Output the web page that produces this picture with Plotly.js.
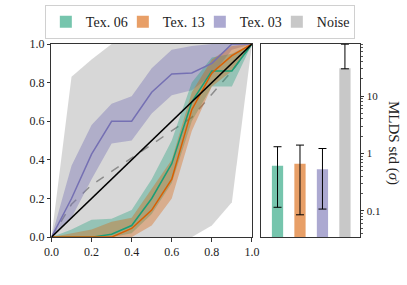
<!DOCTYPE html>
<html><head><meta charset="utf-8">
<script src="https://cdn.plot.ly/plotly-3.0.1.min.js"></script>
<style>html,body{margin:0;padding:0;background:#fff;}#chart{width:407px;height:285px;}</style>
</head><body><div id="chart"></div>
<script>
const xs = [0,0.1,0.2,0.3,0.4,0.5,0.6,0.7,0.8,0.9,1.0];

const tex06Mean  = [0,0,0,0.015,0.06,0.2,0.38,0.70,0.86,0.86,1.0];
const tex06Upper = [0,0.04,0.09,0.095,0.14,0.30,0.50,0.80,0.93,0.95,1.0];
const tex06Lower = [0,0,0,0,0.02,0.12,0.28,0.60,0.78,0.78,1.0];

const tex13Mean  = [0,0,0,0,0.045,0.14,0.30,0.66,0.85,0.94,1.0];
const tex13Upper = [0,0.02,0.04,0.08,0.10,0.25,0.40,0.75,0.92,0.99,1.0];
const tex13Lower = [0,0,0,0,0,0.06,0.20,0.55,0.78,0.86,1.0];

const tex03Mean  = [0,0.20,0.43,0.60,0.60,0.75,0.845,0.85,0.90,1.0,1.0];
const tex03Upper = [0,0.37,0.58,0.69,0.73,0.875,0.97,0.99,1.0,1.0,1.0];
const tex03Lower = [0,0.10,0.30,0.485,0.50,0.64,0.735,0.76,0.84,0.97,1.0];

const noiseMean  = [0,0.17,0.27,0.34,0.41,0.48,0.55,0.62,0.74,0.86,1.0];
const noiseUpper = [0,0.83,0.92,1.0,1.0,1.0,1.0,1.0,1.0,1.0,1.0];
const noiseLower = [0,0,0,0,0,0,0,0,0.06,0.18,1.0];

const diagX = [0,1];
const diagY = [0,1];

const barNames = ['Tex. 06','Tex. 13','Tex. 03','Noise'];
const barStd   = [0.61,0.66,0.53,30.6];
const barErrHi = [1.31,1.40,1.22,80.7];
const barErrLo = [0.115,0.085,0.107,30.0];

const lineColors = ['#1b9e77','#d95f02','#7570b3','#999999'];
const bandColors = ['rgba(27,158,119,0.35)','rgba(217,95,2,0.35)','rgba(117,112,179,0.4)','rgba(205,205,205,0.8)'];
const barColors  = ['rgba(27,158,119,0.6)','rgba(217,95,2,0.6)','rgba(117,112,179,0.6)','rgba(200,200,200,1)'];

function band(upper, lower, color){
  return [
    {x: xs, y: lower, mode:'lines', line:{width:0,color:color}, showlegend:false, hoverinfo:'skip', xaxis:'x', yaxis:'y'},
    {x: xs, y: upper, mode:'lines', line:{width:0,color:color}, fill:'tonexty', fillcolor:color, showlegend:false, hoverinfo:'skip', xaxis:'x', yaxis:'y'}
  ];
}
function line(y, color, dash){
  return {x: xs, y: y, mode:'lines', line:{width:1.5,color:color,dash:dash||'solid'}, showlegend:false, xaxis:'x', yaxis:'y'};
}

const traces = [];
traces.push(...band(noiseUpper, noiseLower, bandColors[3]));
traces.push(line(noiseMean, '#8c8c8c', 'dash'));
traces.push(...band(tex03Upper, tex03Lower, bandColors[2]));
traces.push(...band(tex06Upper, tex06Lower, bandColors[0]));
traces.push(...band(tex13Upper, tex13Lower, bandColors[1]));
traces.push(line(tex03Mean, lineColors[2]));
traces.push(line(tex06Mean, lineColors[0]));
traces.push(line(tex13Mean, lineColors[1]));
traces.push({x: diagX, y: diagY, mode:'lines', line:{width:1.5,color:'#000'}, showlegend:false, xaxis:'x', yaxis:'y'});

for (let i=0;i<barNames.length;i++){
  traces.push({
    type:'bar', name: barNames[i], x:[i], y:[barStd[i]], width:0.5,
    marker:{color: barColors[i], line:{width:0}},
    error_y:{type:'data', symmetric:false, array:[barErrHi[i]-barStd[i]], arrayminus:[barStd[i]-barErrLo[i]], color:'#000', thickness:1, width:4},
    xaxis:'x2', yaxis:'y2'
  });
}

const minorVals = [];
for (let k=-2;k<=1;k++) for (let m=2;m<=9;m++) minorVals.push(m*Math.pow(10,k));

const FAM = 'Liberation Serif, DejaVu Serif, serif';
const font = {family:FAM, color:'#222', size:12};
const layout = {
  width:407, height:285,
  margin:{l:0,r:0,t:0,b:0},
  paper_bgcolor:'#fff', plot_bgcolor:'rgba(0,0,0,0)',
  font: font,
  showlegend:true,
  barmode:'overlay',
  legend:{orientation:'h', traceorder:'normal', x:0.491, xanchor:'center', y:0.982, yanchor:'top',
          bordercolor:'#d0d0d0', borderwidth:1, font:{family:FAM,size:14,color:'#222'},
          itemwidth:30, entrywidth:32, entrywidthmode:'pixels'},
  xaxis:{domain:[0.1265,0.619], range:[0,1], tickvals:[0,0.2,0.4,0.6,0.8,1.0], ticktext:['0.0','0.2','0.4','0.6','0.8','1.0'],
         tickfont:{family:FAM,size:12,color:'#222'},
         ticks:'outside', ticklen:3.5, tickcolor:'#333', showline:true, mirror:true, linecolor:'#333', linewidth:1,
         showgrid:false, zeroline:false, fixedrange:true},
  yaxis:{domain:[0.168,0.8456], range:[0,1], tickvals:[0,0.2,0.4,0.6,0.8,1.0], ticktext:['0.0','0.2','0.4','0.6','0.8','1.0'],
         tickfont:{family:FAM,size:12,color:'#222'},
         ticks:'outside', ticklen:3.5, tickcolor:'#333', showline:true, mirror:true, linecolor:'#333', linewidth:1,
         showgrid:false, zeroline:false, fixedrange:true},
  xaxis2:{domain:[0.641,0.8845], anchor:'y2', range:[-0.74,3.67], showticklabels:false, ticks:'',
          showline:true, mirror:true, linecolor:'#333', linewidth:1, showgrid:false, zeroline:false},
  yaxis2:{domain:[0.168,0.8456], anchor:'x2', side:'right', type:'log', range:[-1.46,1.91],
          tickvals:[0.1,1,10], ticktext:['0.1','1','10'], ticks:'outside', ticklen:3.5, tickcolor:'#333',
          tickfont:{family:FAM,size:11,color:'#222'},
          minor:{tickvals:minorVals, ticks:'outside', ticklen:2, tickcolor:'#555', showgrid:false},
          showline:true, mirror:true, linecolor:'#333', linewidth:1, showgrid:false, zeroline:false},
  annotations:[{text:'MLDS std (<i>σ</i>)', xref:'paper', yref:'paper', x:394/407, y:1-143/285,
                xanchor:'center', yanchor:'middle', textangle:90, showarrow:false,
                font:{family:FAM,size:15,color:'#222'}}]
};

Plotly.newPlot('chart', traces, layout, {displayModeBar:false, staticPlot:true});
</script></body></html>
